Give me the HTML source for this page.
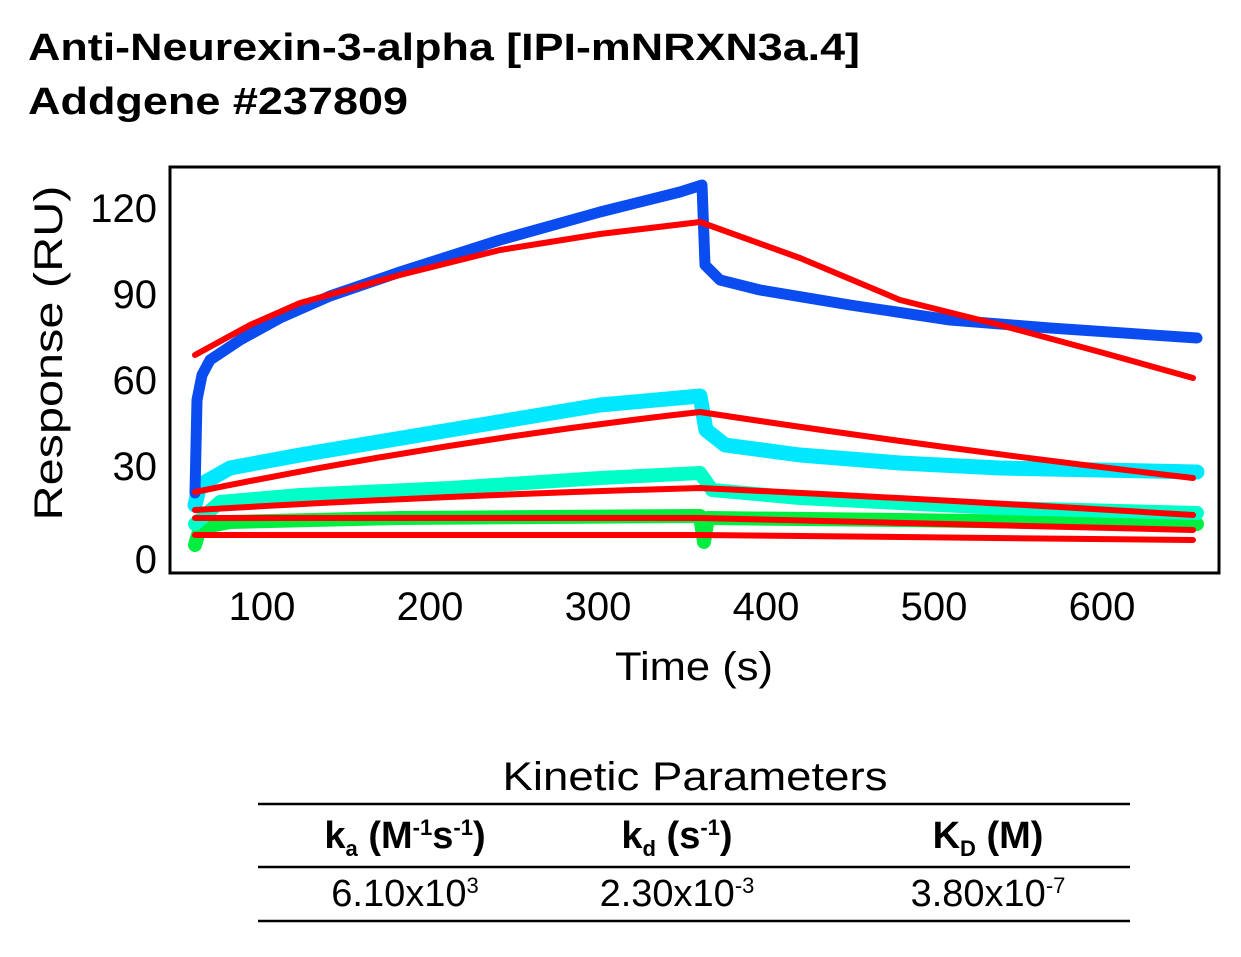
<!DOCTYPE html>
<html><head><meta charset="utf-8"><style>
body{margin:0;background:#fff;width:1241px;height:952px;overflow:hidden;font-family:"Liberation Sans",sans-serif;}
</style></head><body>
<svg width="1241" height="952" xmlns="http://www.w3.org/2000/svg" font-family="Liberation Sans, sans-serif">
<text x="28" y="60" font-size="38" font-weight="bold" textLength="832" lengthAdjust="spacingAndGlyphs">Anti-Neurexin-3-alpha [IPI-mNRXN3a.4]</text>
<text x="28" y="114" font-size="38" font-weight="bold" textLength="380" lengthAdjust="spacingAndGlyphs">Addgene #237809</text>
<g fill="none" stroke-linejoin="round" stroke-linecap="round">
<polyline stroke="#00ee40" stroke-width="14" points="195,545 200,528 230,522 400,518 700,516 704,542 708,518 900,520 1197,524"/>
<polyline stroke="#00ffc8" stroke-width="14" points="195,524 220,502 300,495 450,488 600,478 700,473 712,490 800,498 1000,508 1197,513"/>
<polyline stroke="#00e8ff" stroke-width="15" points="195,505 200,485 230,468 300,455 450,430 600,405 700,396 706,430 725,445 800,455 900,463 1000,468 1197,472"/>
<polyline stroke="#0a4cf0" stroke-width="11" points="195,493 197,400 202,375 210,360 240,340 280,318 330,296 400,272 500,240 600,212 680,192 702,185 705,265 720,280 760,290 850,305 950,320 1050,328 1197,338"/>
<g stroke="#ff0000" stroke-width="6">
<polyline points="195,355 250,325 300,303 400,275 500,250 600,234 700,222 800,258 900,300 1000,325 1100,352 1193,378"/>
<path d="M195,492 Q450,440 700,412 Q950,450 1193,478"/>
<path d="M195,510 Q450,495 700,488 Q950,500 1193,515"/>
<path d="M195,518 L700,518 L1193,530"/>
<path d="M195,535 L700,535 L1193,540"/>
</g>
</g>
<rect x="170" y="167" width="1049" height="406" fill="none" stroke="#000" stroke-width="3"/>
<g font-size="40" text-anchor="middle">
<text x="262" y="620">100</text><text x="430" y="620">200</text><text x="598" y="620">300</text>
<text x="766" y="620">400</text><text x="934" y="620">500</text><text x="1102" y="620">600</text>
<text x="694" y="680" textLength="158" lengthAdjust="spacingAndGlyphs">Time (s)</text>
</g>
<g font-size="40" text-anchor="end">
<text x="157" y="222">120</text><text x="157" y="308">90</text><text x="157" y="394">60</text>
<text x="157" y="480">30</text><text x="157" y="573">0</text>
</g>
<text transform="translate(62,353) rotate(-90)" font-size="40" text-anchor="middle" textLength="335" lengthAdjust="spacingAndGlyphs">Response (RU)</text>
<text x="695" y="790" font-size="40" text-anchor="middle" textLength="385" lengthAdjust="spacingAndGlyphs">Kinetic Parameters</text>
<line x1="258" y1="804" x2="1130" y2="804" stroke="#000" stroke-width="2.5"/>
<line x1="258" y1="867" x2="1130" y2="867" stroke="#000" stroke-width="2.5"/>
<line x1="258" y1="921" x2="1130" y2="921" stroke="#000" stroke-width="2.5"/>
<g font-size="38" font-weight="bold" text-anchor="middle">
<text x="405" y="848">k<tspan font-size="22" dy="8">a</tspan><tspan dy="-8"> (M</tspan><tspan font-size="22" dy="-13">-1</tspan><tspan dy="13">s</tspan><tspan font-size="22" dy="-13">-1</tspan><tspan dy="13">)</tspan></text>
<text x="677" y="848">k<tspan font-size="22" dy="8">d</tspan><tspan dy="-8"> (s</tspan><tspan font-size="22" dy="-13">-1</tspan><tspan dy="13">)</tspan></text>
<text x="988" y="848">K<tspan font-size="22" dy="8">D</tspan><tspan dy="-8"> (M)</tspan></text>
</g>
<g font-size="38" text-anchor="middle">
<text x="405" y="906">6.10x10<tspan font-size="22" dy="-13">3</tspan></text>
<text x="677" y="906">2.30x10<tspan font-size="22" dy="-13">-3</tspan></text>
<text x="988" y="906">3.80x10<tspan font-size="22" dy="-13">-7</tspan></text>
</g>
</svg>
</body></html>
